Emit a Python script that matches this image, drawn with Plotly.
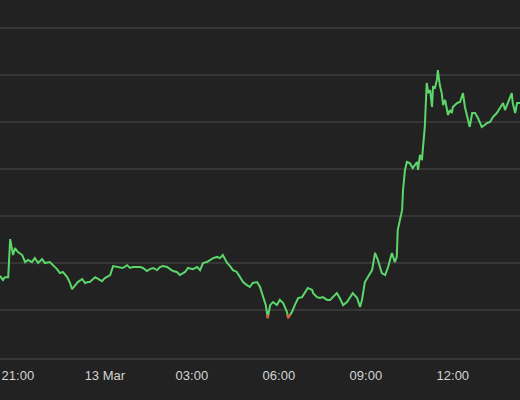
import pandas as pd
import plotly.graph_objects as go

times = [
    "2024-03-12 20:23", "2024-03-12 20:29", "2024-03-12 20:33", "2024-03-12 20:40", "2024-03-12 20:44",
    "2024-03-12 20:48", "2024-03-12 20:50", "2024-03-12 20:54", "2024-03-12 21:00", "2024-03-12 21:09",
    "2024-03-12 21:15", "2024-03-12 21:21", "2024-03-12 21:29", "2024-03-12 21:35", "2024-03-12 21:42",
    "2024-03-12 21:50", "2024-03-12 21:56", "2024-03-12 22:06", "2024-03-12 22:13", "2024-03-12 22:21",
    "2024-03-12 22:27", "2024-03-12 22:33", "2024-03-12 22:42", "2024-03-12 22:48", "2024-03-12 22:52",
    "2024-03-12 22:58", "2024-03-12 23:04", "2024-03-12 23:13", "2024-03-12 23:19", "2024-03-12 23:25",
    "2024-03-12 23:29", "2024-03-12 23:40", "2024-03-12 23:46", "2024-03-12 23:54", "2024-03-13 00:00",
    "2024-03-13 00:11", "2024-03-13 00:17", "2024-03-13 00:25", "2024-03-13 00:31", "2024-03-13 00:37",
    "2024-03-13 00:46", "2024-03-13 00:52", "2024-03-13 00:58", "2024-03-13 01:06", "2024-03-13 01:13",
    "2024-03-13 01:19", "2024-03-13 01:27", "2024-03-13 01:33", "2024-03-13 01:40", "2024-03-13 01:48",
    "2024-03-13 01:54", "2024-03-13 02:00", "2024-03-13 02:09", "2024-03-13 02:15", "2024-03-13 02:21",
    "2024-03-13 02:29", "2024-03-13 02:35", "2024-03-13 02:46", "2024-03-13 02:52", "2024-03-13 03:02",
    "2024-03-13 03:11", "2024-03-13 03:17", "2024-03-13 03:23", "2024-03-13 03:31", "2024-03-13 03:37",
    "2024-03-13 03:44", "2024-03-13 03:52", "2024-03-13 03:58", "2024-03-13 04:04", "2024-03-13 04:13",
    "2024-03-13 04:19", "2024-03-13 04:25", "2024-03-13 04:33", "2024-03-13 04:40", "2024-03-13 04:46",
    "2024-03-13 04:54", "2024-03-13 05:00", "2024-03-13 05:06", "2024-03-13 05:15", "2024-03-13 05:21",
    "2024-03-13 05:27", "2024-03-13 05:33", "2024-03-13 05:37", "2024-03-13 05:42", "2024-03-13 05:48",
    "2024-03-13 05:56", "2024-03-13 06:02", "2024-03-13 06:09", "2024-03-13 06:17", "2024-03-13 06:19",
    "2024-03-13 06:27", "2024-03-13 06:33", "2024-03-13 06:40", "2024-03-13 06:48", "2024-03-13 06:54",
    "2024-03-13 07:00", "2024-03-13 07:09", "2024-03-13 07:11", "2024-03-13 07:19", "2024-03-13 07:25",
    "2024-03-13 07:31", "2024-03-13 07:40", "2024-03-13 07:46", "2024-03-13 07:52", "2024-03-13 08:00",
    "2024-03-13 08:06", "2024-03-13 08:13", "2024-03-13 08:21", "2024-03-13 08:27", "2024-03-13 08:33",
    "2024-03-13 08:42", "2024-03-13 08:48", "2024-03-13 08:52", "2024-03-13 08:58", "2024-03-13 09:04",
    "2024-03-13 09:13", "2024-03-13 09:19", "2024-03-13 09:25", "2024-03-13 09:33", "2024-03-13 09:40",
    "2024-03-13 09:46", "2024-03-13 09:54", "2024-03-13 10:00", "2024-03-13 10:04", "2024-03-13 10:06",
    "2024-03-13 10:11", "2024-03-13 10:15", "2024-03-13 10:17", "2024-03-13 10:21", "2024-03-13 10:25",
    "2024-03-13 10:31", "2024-03-13 10:37", "2024-03-13 10:46", "2024-03-13 10:48", "2024-03-13 10:52",
    "2024-03-13 10:56", "2024-03-13 10:58", "2024-03-13 11:02", "2024-03-13 11:06", "2024-03-13 11:09",
    "2024-03-13 11:13", "2024-03-13 11:17", "2024-03-13 11:19", "2024-03-13 11:23", "2024-03-13 11:27",
    "2024-03-13 11:29", "2024-03-13 11:33", "2024-03-13 11:37", "2024-03-13 11:40", "2024-03-13 11:44",
    "2024-03-13 11:48", "2024-03-13 11:50", "2024-03-13 11:54", "2024-03-13 11:58", "2024-03-13 12:00",
    "2024-03-13 12:09", "2024-03-13 12:15", "2024-03-13 12:21", "2024-03-13 12:25", "2024-03-13 12:31",
    "2024-03-13 12:35", "2024-03-13 12:40", "2024-03-13 12:46", "2024-03-13 12:52", "2024-03-13 13:00",
    "2024-03-13 13:06", "2024-03-13 13:11", "2024-03-13 13:17", "2024-03-13 13:23", "2024-03-13 13:31",
    "2024-03-13 13:38", "2024-03-13 13:44", "2024-03-13 13:48", "2024-03-13 13:54", "2024-03-13 14:02",
    "2024-03-13 14:04", "2024-03-13 14:09", "2024-03-13 14:13", "2024-03-13 14:19",
]

prices = [
    71345, 71328, 71340, 71340, 71502,
    71455, 71434, 71464, 71447, 71434,
    71404, 71413, 71404, 71421, 71400,
    71417, 71400, 71404, 71391, 71374,
    71357, 71362, 71340, 71315, 71289,
    71306, 71319, 71332, 71315, 71319,
    71319, 71340, 71332, 71323, 71336,
    71349, 71387, 71383, 71383, 71379,
    71391, 71379, 71383, 71383, 71383,
    71379, 71366, 71374, 71379, 71370,
    71383, 71387, 71383, 71374, 71366,
    71362, 71349, 71362, 71379, 71374,
    71383, 71370, 71400, 71404, 71413,
    71421, 71426, 71421, 71434, 71400,
    71387, 71370, 71362, 71340, 71319,
    71306, 71298, 71315, 71319, 71298,
    71264, 71221, 71166, 71221, 71234,
    71221, 71243, 71230, 71191, 71166,
    71191, 71221, 71251, 71255, 71272,
    71294, 71285, 71272, 71255, 71251,
    71255, 71243, 71243, 71255, 71272,
    71251, 71221, 71234, 71255, 71272,
    71251, 71213, 71243, 71319, 71340,
    71370, 71443, 71413, 71357, 71349,
    71383, 71443, 71404, 71426, 71540,
    71596, 71625, 71711, 71796, 71830,
    71825, 71804, 71830, 71796, 71860,
    71838, 71894, 71979, 72166, 72123,
    72136, 72064, 72149, 72145, 72179,
    72221, 72157, 72123, 72072, 72094,
    72051, 72030, 72051, 72038, 72064,
    72081, 72085, 72123, 72064, 72017,
    71979, 72038, 72038, 72017, 71979,
    71987, 71996, 72000, 72021, 72038,
    72064, 72081, 72051, 72081, 72123,
    72081, 72038, 72081, 72081,
]

tick_times = ["2024-03-12 21:00", "2024-03-13 00:00", "2024-03-13 03:00",
              "2024-03-13 06:00", "2024-03-13 09:00", "2024-03-13 12:00"]
tick_labels = ["21:00", "13 Mar", "03:00", "06:00", "09:00", "12:00"]

threshold = 71180

# Insert threshold crossings so that the part below threshold can be drawn in red
ts = pd.to_datetime(times)
xs, ys = [], []
for i in range(len(prices)):
    if i > 0:
        a, b = prices[i - 1], prices[i]
        if (a - threshold) * (b - threshold) < 0:
            f = (threshold - a) / (b - a)
            xs.append(ts[i - 1] + (ts[i] - ts[i - 1]) * f)
            ys.append(threshold)
    xs.append(ts[i])
    ys.append(prices[i])
red_y = [v if v <= threshold else None for v in ys]

fig = go.Figure()
fig.add_trace(go.Scatter(x=xs, y=ys, mode="lines",
                         line=dict(color="#5cd66a", width=2), hoverinfo="skip"))
fig.add_trace(go.Scatter(x=xs, y=red_y, mode="lines", connectgaps=False,
                         line=dict(color="#e8553a", width=2), hoverinfo="skip"))

fig.update_layout(
    width=520, height=400,
    margin=dict(l=0, r=0, t=0, b=42),
    paper_bgcolor="#222222", plot_bgcolor="#222222",
    showlegend=False,
    font=dict(family="Liberation Sans, Arial, sans-serif", size=13, color="#d4d4d4"),
    xaxis=dict(
        range=["2024-03-12 20:23", "2024-03-13 14:19"],
        tickvals=tick_times, ticktext=tick_labels,
        showgrid=False, zeroline=False, ticks="",
        showline=True, linecolor="#363636", linewidth=2,
        ticklabelstandoff=4,
        tickfont=dict(size=13, color="#d4d4d4"),
    ),
    yaxis=dict(
        range=[70996, 72519],
        tick0=71000, dtick=200,
        showgrid=True, gridcolor="#363636", gridwidth=2,
        showticklabels=False, zeroline=False, showline=False, ticks="",
    ),
)

fig.write_html(
    "out.html",
    config={"displayModeBar": False},
    post_script="document.body.style.margin='0';document.body.style.background='#222222';",
)
